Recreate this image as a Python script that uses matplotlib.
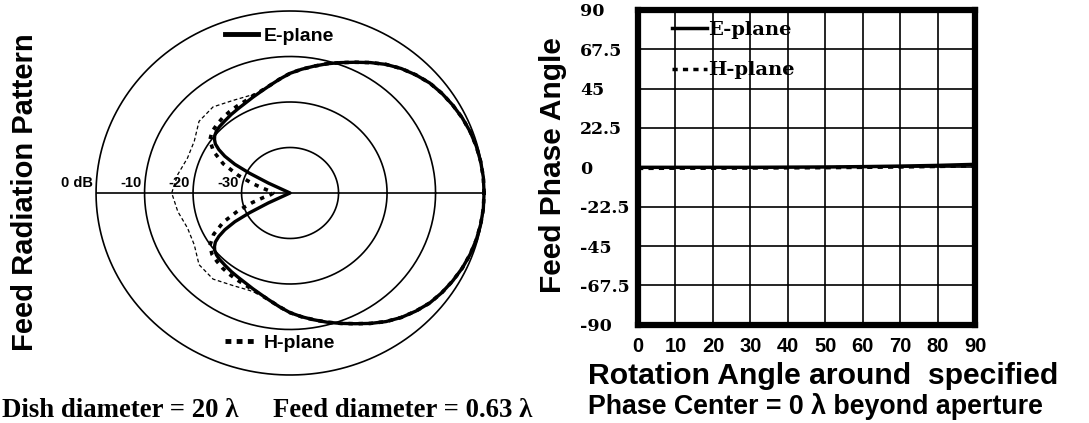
"""Feed radiation pattern (polar, dB) and feed phase vs rotation angle."""

import numpy as np
import matplotlib.pyplot as plt
from matplotlib.lines import Line2D

# --- radiation pattern, one half (0..180 deg); the other half mirrors it ---
e_angle = [0, 5, 10, 15, 20, 25, 30, 35, 40, 45, 50, 55, 60, 65, 70, 75,
           80, 85, 90, 95, 100, 105, 110, 115, 120, 125, 130, 135, 138, 141,
           143, 145, 147, 149, 151, 152.5, 154, 155.5, 180]
e_db = [0.0, 0.0, -0.1, -0.25, -0.5, -0.85, -1.3, -1.8, -2.4, -3.3, -4.3,
        -5.5, -6.9, -8.3, -9.5, -10.6, -11.7, -12.7, -13.7, -14.9, -16.0,
        -16.9, -17.6, -18.2, -18.6, -18.9, -19.2, -19.4, -19.6, -20.0,
        -20.5, -21.2, -22.5, -24.3, -27.0, -30.5, -35.0, -40.0, -40.0]

h_angle = [0, 5, 10, 15, 20, 25, 30, 35, 40, 45, 50, 55, 60, 65, 70, 75,
           80, 85, 90, 95, 100, 105, 110, 115, 120, 125, 130, 135, 140, 145,
           150, 155, 160, 165, 170, 175, 180]
h_db = [0.0, 0.0, -0.1, -0.25, -0.5, -0.85, -1.3, -1.8, -2.4, -3.3, -4.3,
        -5.5, -6.9, -8.3, -9.5, -10.6, -11.7, -12.7, -13.7, -14.9, -16.0,
        -16.8, -17.4, -17.8, -18.0, -18.2, -18.4, -18.7, -19.0, -19.8,
        -21.8, -24.8, -28.6, -32.0, -34.5, -36.0, -36.5]

# outer trace on the back side
x_angle = [105, 112, 120, 130, 140, 150, 160, 170, 180]
x_db = [-16.9, -17.0, -16.5, -15.3, -15.5, -17.2, -17.5, -16.5, -15.6]

ring_db = [0, -10, -20, -30]
ring_labels = ['0 dB', '-10', '-20', '-30']
floor_db = -40

# --- feed phase vs rotation angle ---
rotation = [0, 10, 20, 30, 40, 50, 60, 70, 80, 90]
phase_e = [0.0, 0.0, 0.0, 0.0, 0.1, 0.2, 0.4, 0.7, 1.1, 1.7]
phase_h = [-0.6, -0.5, -0.5, -0.4, -0.3, -0.2, 0.0, 0.2, 0.5, 0.9]
phase_ticks = [90, 67.5, 45, 22.5, 0, -22.5, -45, -67.5, -90]
phase_labels = ['90', '67.5', '45', '22.5', '0', '-22.5', '-45', '-67.5', '-90']

SANS = 'Liberation Sans'


def mirror(angle, db):
    """Return x, y of a pattern symmetric about the 0/180 deg line."""
    angle = np.asarray(angle, float)
    db = np.asarray(db, float)
    a = np.concatenate([angle, 360 - angle[::-1][1:]])
    d = np.concatenate([db, db[::-1][1:]])
    r = np.clip(d - floor_db, 0, None)
    t = np.deg2rad(a)
    return r * np.cos(t), r * np.sin(t)


fig = plt.figure(figsize=(10.89, 4.23), dpi=100)

# ---------------- polar pattern ----------------
ax = fig.add_axes([0.0882, 0.1135, 0.3563, 0.8605])
ax.set_xlim(-40, 40)
ax.set_ylim(-40, 40)
ax.axis('off')

t = np.linspace(0, 2 * np.pi, 400)
for db in ring_db:
    r = db - floor_db
    ax.plot(r * np.cos(t), r * np.sin(t), color='black', lw=1.2,
            clip_on=False)
ax.axhline(0, color='black', lw=1.2)

for db, lab in zip(ring_db, ring_labels):
    r = db - floor_db
    ax.text(-r - 0.6, 2.2, lab, ha='right', va='center', fontsize=10.5,
            fontweight='bold', family=SANS)

ex, ey = mirror(e_angle, e_db)
hx, hy = mirror(h_angle, h_db)
xx, xy = mirror(x_angle, x_db)
ax.plot(ex, ey, color='black', lw=2.4, clip_on=False)
ax.plot(hx, hy, color='black', lw=2.6, ls=(0, (1.2, 1.6)), clip_on=False)
ax.plot(xx, xy, color='black', lw=0.9, ls=(0, (3, 2)))

prop = {'family': SANS, 'weight': 'bold', 'size': 14}
leg_e = ax.legend(handles=[Line2D([], [], color='black', lw=3.5)],
                  labels=['E-plane'], loc='center left',
                  bbox_to_anchor=(0.3325, 0.931), frameon=False,
                  handlelength=1.7, handletextpad=0.3, borderpad=0,
                  borderaxespad=0, prop=prop)
ax.add_artist(leg_e)
ax.legend(handles=[Line2D([], [], color='black', lw=3.5,
                          ls=(0, (1.2, 1.1)))],
          labels=['H-plane'], loc='center left',
          bbox_to_anchor=(0.3325, 0.088), frameon=False,
          handlelength=1.7, handletextpad=0.3, borderpad=0,
          borderaxespad=0, prop=prop)

fig.text(0.023, 0.545, 'Feed Radiation Pattern', rotation=90, ha='center',
         va='center', fontsize=21, fontweight='bold', family=SANS)
fig.text(0.002, 0.014, 'Dish diameter = 20 \u03bb', ha='left',
         va='baseline', fontsize=19.3, fontweight='bold',
         family='Liberation Serif')
fig.text(0.2507, 0.014, 'Feed diameter = 0.63 \u03bb', ha='left',
         va='baseline', fontsize=19.3, fontweight='bold',
         family='Liberation Serif')

# ---------------- phase plot ----------------
ax2 = fig.add_axes([0.5859, 0.2324, 0.3095, 0.744])
ax2.plot(rotation, phase_e, color='black', lw=2.5, label='E-plane')
ax2.plot(rotation, phase_h, color='black', lw=2.5, ls=(0, (1.5, 1.5)),
         label='H-plane')
ax2.set_xlim(0, 90)
ax2.set_ylim(-90, 90)
ax2.set_xticks(rotation, labels=[str(v) for v in rotation],
               fontsize=14.5, fontweight='bold', family=SANS)
ax2.set_yticks(phase_ticks, labels=phase_labels, fontsize=12.5,
               fontweight='bold', family='DejaVu Serif', ha='left')
ax2.tick_params(axis='y', length=0, pad=41.8)
ax2.tick_params(axis='x', length=0, pad=9)
ax2.grid(color='black', lw=1.2)
for sp in ax2.spines.values():
    sp.set_linewidth(4.5)

ax2.legend(loc='upper left', bbox_to_anchor=(0.1, 0.965), frameon=False,
           handlelength=1.8, handletextpad=0.05, borderpad=0,
           borderaxespad=0, labelspacing=1.15,
           prop={'family': 'DejaVu Serif', 'weight': 'bold', 'size': 14})

fig.text(0.508, 0.61, 'Feed Phase Angle', rotation=90, ha='center',
         va='center', fontsize=21.5, fontweight='bold', family=SANS)
fig.text(0.54, 0.112, 'Rotation Angle around  specified', ha='left',
         va='center', fontsize=21.7, fontweight='bold', family=SANS)
fig.text(0.54, 0.04, 'Phase Center = 0 \u03bb beyond aperture', ha='left',
         va='center', fontsize=19.3, fontweight='bold', family=SANS)

fig.savefig('out.png', dpi=100)
